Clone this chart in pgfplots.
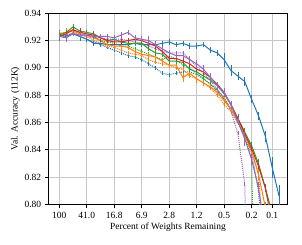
\documentclass[border=0pt]{standalone}
\usepackage{fontspec}
\setmainfont{Liberation Serif}
\usepackage{pgfplots}
\pgfplotsset{compat=1.18}
\usepackage{pgfplotstable}
\definecolor{tblue}{HTML}{1F77B4}
\definecolor{torange}{HTML}{FF7F0E}
\definecolor{tgreen}{HTML}{2CA02C}
\definecolor{tred}{HTML}{D62728}
\definecolor{tpurple}{HTML}{9467BD}

\pgfplotstableread{
x y e
0 0.924 0.004
1 0.923 0.002
2 0.925 0.002
3 0.923 0.003
4 0.921 0.002
5 0.918 0.002
6 0.918 0.002
7 0.917 0.002
8 0.917 0.002
9 0.917 0.002
10 0.917 0.002
11 0.918 0.002
12 0.917 0.002
13 0.917 0.002
14 0.917 0.003
15 0.918 0.002
16 0.919 0.002
17 0.917 0.002
18 0.918 0.002
19 0.916 0.002
20 0.916 0.002
21 0.917 0.002
22 0.913 0.002
23 0.911 0.002
24 0.906 0.005
25 0.898 0.004
26 0.894 0.003
27 0.890 0.003
28 0.877 0.003
29 0.865 0.003
30 0.850 0.004
31 0.827 0.008
32 0.806 0.008
}\blueS

\pgfplotstableread{
x y e
0 0.925 0.002
1 0.926 0.003
2 0.927 0.002
3 0.925 0.002
4 0.924 0.002
5 0.922 0.002
6 0.920 0.002
7 0.917 0.002
8 0.916 0.002
9 0.916 0.003
10 0.915 0.002
11 0.912 0.002
12 0.910 0.002
13 0.909 0.002
14 0.908 0.002
15 0.905 0.002
16 0.902 0.002
17 0.902 0.002
18 0.893 0.003
19 0.896 0.003
20 0.892 0.003
21 0.889 0.002
22 0.886 0.002
23 0.882 0.003
24 0.876 0.003
25 0.870 0.003
26 0.861 0.003
27 0.851 0.003
28 0.839 0.003
29 0.822 0.004
30 0.798 0.004
31 0.770 0.004
}\orangeS

\pgfplotstableread{
x y e
0 0.924 0.002
1 0.926 0.002
2 0.930 0.002
3 0.927 0.002
4 0.926 0.002
5 0.925 0.002
6 0.922 0.002
7 0.920 0.002
8 0.921 0.002
9 0.919 0.002
10 0.918 0.002
11 0.918 0.002
12 0.918 0.002
13 0.914 0.002
14 0.911 0.002
15 0.910 0.002
16 0.905 0.002
17 0.905 0.002
18 0.904 0.002
19 0.899 0.002
20 0.897 0.002
21 0.894 0.002
22 0.891 0.002
23 0.887 0.002
24 0.881 0.002
25 0.873 0.003
26 0.863 0.003
27 0.853 0.003
28 0.843 0.003
29 0.830 0.003
30 0.812 0.003
31 0.785 0.004
}\greenS

\pgfplotstableread{
x y e
0 0.923 0.002
1 0.925 0.002
2 0.928 0.002
3 0.926 0.003
4 0.925 0.002
5 0.924 0.002
6 0.922 0.003
7 0.920 0.002
8 0.919 0.002
9 0.919 0.002
10 0.920 0.002
11 0.921 0.002
12 0.920 0.002
13 0.918 0.002
14 0.916 0.002
15 0.912 0.002
16 0.907 0.002
17 0.907 0.002
18 0.905 0.002
19 0.903 0.002
20 0.899 0.002
21 0.897 0.002
22 0.893 0.002
23 0.888 0.002
24 0.882 0.002
25 0.873 0.002
26 0.863 0.002
27 0.852 0.002
28 0.841 0.002
29 0.828 0.002
30 0.812 0.002
31 0.793 0.002
}\redS

\pgfplotstableread{
x y e
0 0.923 0.002
1 0.922 0.003
2 0.925 0.002
3 0.924 0.002
4 0.924 0.002
5 0.923 0.002
6 0.923 0.002
7 0.923 0.002
8 0.922 0.002
9 0.924 0.002
10 0.926 0.002
11 0.922 0.002
12 0.921 0.002
13 0.920 0.003
14 0.917 0.002
15 0.914 0.002
16 0.911 0.002
17 0.909 0.002
18 0.909 0.002
19 0.906 0.003
20 0.903 0.003
21 0.899 0.003
22 0.893 0.003
23 0.887 0.003
24 0.882 0.003
25 0.873 0.003
26 0.861 0.003
27 0.848 0.005
28 0.833 0.004
29 0.812 0.004
30 0.780 0.004
}\purpleS

\pgfplotstableread{
x y
0 0.923
1 0.924
2 0.925
3 0.923
4 0.921
5 0.919
6 0.917
7 0.915
8 0.913
9 0.911
10 0.909
11 0.908
12 0.906
13 0.903
14 0.900
15 0.896
16 0.895
17 0.896
18 0.897
19 0.897
20 0.895
21 0.892
22 0.888
23 0.883
24 0.877
25 0.870
26 0.860
27 0.849
28 0.838
29 0.810
30 0.750
}\blueD

\pgfplotstableread{
x y
0 0.926
1 0.924
2 0.926
3 0.924
4 0.923
5 0.920
6 0.918
7 0.916
8 0.915
9 0.913
10 0.911
11 0.910
12 0.909
13 0.906
14 0.904
15 0.903
16 0.902
17 0.900
18 0.899
19 0.894
20 0.892
21 0.889
22 0.885
23 0.880
24 0.873
25 0.868
26 0.860
27 0.850
28 0.840
29 0.822
30 0.760
}\orangeD

\pgfplotstableread{
x y
0 0.925
1 0.926
2 0.928
3 0.926
4 0.925
5 0.923
6 0.920
7 0.919
8 0.918
9 0.916
10 0.916
11 0.914
12 0.912
13 0.910
14 0.908
15 0.906
16 0.909
17 0.906
18 0.902
19 0.900
20 0.896
21 0.892
22 0.888
23 0.884
24 0.878
25 0.870
26 0.860
27 0.850
28 0.833
29 0.600
}\greenD

\pgfplotstableread{
x y
0 0.924
1 0.923
2 0.925
3 0.924
4 0.923
5 0.922
6 0.922
7 0.921
8 0.921
9 0.921
10 0.920
11 0.919
12 0.918
13 0.916
14 0.914
15 0.912
16 0.911
17 0.911
18 0.911
19 0.906
20 0.901
21 0.896
22 0.891
23 0.884
24 0.878
25 0.868
26 0.852
27 0.815
28 0.600
}\purpleD

\begin{document}
\begin{tikzpicture}
\begin{axis}[
  scale only axis, width=238.6bp, height=191bp,
  xmin=-1.54, xmax=33.2, ymin=0.80, ymax=0.94,
  xtick={0,4,8,12,16,20,24,28,31},
  xticklabels={100,41.0,16.8,6.9,2.8,1.2,0.5,0.2,0.1},
  ytick={0.80,0.82,0.84,0.86,0.88,0.90,0.92,0.94},
  yticklabel style={/pgf/number format/.cd, fixed, fixed zerofill, precision=2},
  /pgf/number format/assume math mode=true,
  tick align=outside, tick pos=left, major tick length=4bp,
  tick style={black, line width=0.8pt},
  grid=major, major grid style={color=black!22, line width=1pt},
  axis line style={line width=0.9pt},
  font=\fontsize{9.5}{11}\selectfont,
  xlabel={Percent of Weights Remaining},
  ylabel={Val. Accuracy (112K)},
  xlabel style={yshift=2bp},
  ylabel style={yshift=-2bp},
  error bars/y dir=both,
  error bars/error mark=none,
  error bars/error bar style={solid, line width=0.6pt},
]
\addplot[tblue, densely dotted, line width=1pt, error bars/y fixed=0.0015] table[x=x,y=y] {\blueD};
\addplot[torange, densely dotted, line width=1pt, error bars/y fixed=0.0015] table[x=x,y=y] {\orangeD};
\addplot[tgreen, densely dotted, line width=1pt, error bars/y fixed=0.0015] table[x=x,y=y] {\greenD};
\addplot[tpurple, densely dotted, line width=1pt, error bars/y fixed=0.0015] table[x=x,y=y] {\purpleD};
\addplot[tblue, line width=1pt, error bars/y explicit] table[x=x,y=y,y error=e] {\blueS};
\addplot[torange, line width=1pt, error bars/y explicit] table[x=x,y=y,y error=e] {\orangeS};
\addplot[tgreen, line width=1pt, error bars/y explicit] table[x=x,y=y,y error=e] {\greenS};
\addplot[tred, line width=1pt, error bars/y explicit] table[x=x,y=y,y error=e] {\redS};
\addplot[tpurple, line width=1pt, error bars/y explicit] table[x=x,y=y,y error=e] {\purpleS};
\end{axis}
\path (current axis.south west) +(-48.7bp,-40.7bp) (current axis.north east) +(14.7bp,13.3bp);
\end{tikzpicture}
\end{document}
